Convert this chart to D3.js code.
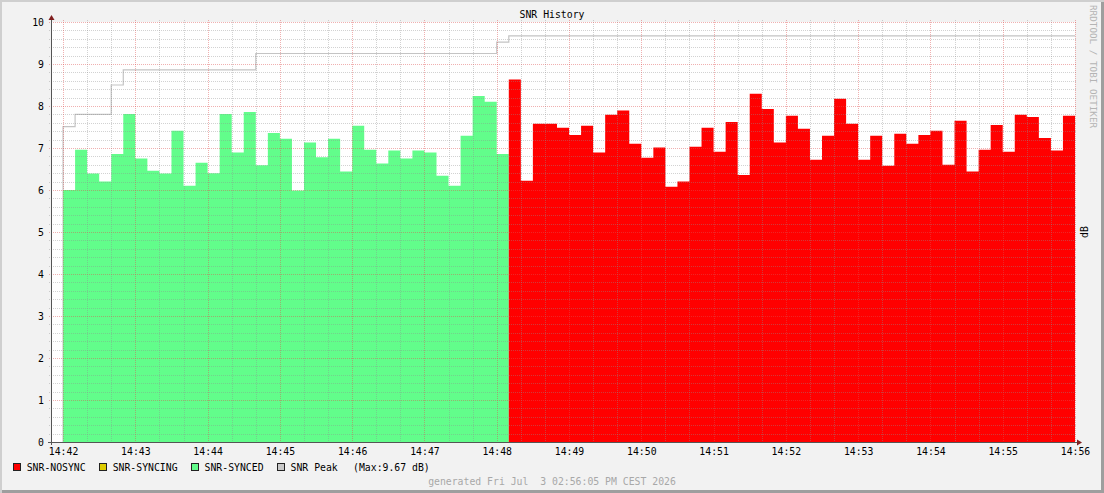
<!DOCTYPE html>
<html>
<head>
<meta charset="utf-8">
<script src="https://cdn.jsdelivr.net/npm/d3@7"></script>
<style>
  body { margin: 0; background: #f2f2f2; }
  svg { display: block; font-family: "DejaVu Sans Mono", monospace; }
</style>
</head>
<body>
<script>
const width = 1104;
const height = 493;
const margin = {top: 22, right: 29, bottom: 51, left: 51};

// samples every 10 s starting 14:42:00
const startTime = new Date(2026, 6, 3, 14, 42, 0);
const endTime = new Date(2026, 6, 3, 14, 56, 0);
const stepSeconds = 10;

const syncedSnr = [6.00, 6.96, 6.39, 6.20, 6.86, 7.81, 6.75, 6.46, 6.39, 7.41,
  6.10, 6.65, 6.40, 7.81, 6.89, 7.86, 6.59, 7.36, 7.22, 5.99,
  7.13, 6.78, 7.22, 6.44, 7.53, 6.96, 6.63, 6.94, 6.75, 6.94,
  6.89, 6.34, 6.10, 7.29, 8.24, 8.10, 6.86];

const nosyncSnr = [8.63, 6.22, 7.58, 7.58, 7.48, 7.31, 7.53, 6.89, 7.79, 7.89,
  7.10, 6.77, 7.01, 6.08, 6.20, 7.03, 7.48, 6.91, 7.62, 6.36,
  8.29, 7.93, 7.13, 7.77, 7.46, 6.72, 7.29, 8.17, 7.58, 6.72,
  7.29, 6.58, 7.34, 7.10, 7.31, 7.41, 6.60, 7.65, 6.44, 6.96,
  7.55, 6.91, 7.79, 7.74, 7.24, 6.94, 7.77];

// peak steps: offset (s) from start -> value
const peakOffsets = [0, 10, 40, 50, 160, 360, 370];
const peakValues = [7.51, 7.80, 8.50, 8.86, 9.25, 9.52, 9.67];
const peakMax = 9.67;

const yTicks = [0, 1, 2, 3, 4, 5, 6, 7, 8, 9, 10];

const legendItems = [
  {label: "SNR-NOSYNC", color: "#ff0000"},
  {label: "SNR-SYNCING", color: "#ddcc00"},
  {label: "SNR-SYNCED", color: "#62fd8b"},
  {label: "SNR Peak", color: "#c8c8c8"}
];

const title = "SNR History";
const yLabel = "dB";
const watermark = "RRDTOOL / TOBI OETIKER";
const footer = "generated Fri Jul  3 02:56:05 PM CEST 2026";

const sec = s => new Date(startTime.getTime() + s * 1000);

const x = d3.scaleTime()
  .domain([sec(-10), endTime])
  .range([margin.left, width - margin.right]);

const y = d3.scaleLinear()
  .domain([0, 10])
  .range([height - margin.bottom, margin.top]);

const x0 = margin.left, x1 = width - margin.right;
const y0 = height - margin.bottom, y1 = margin.top;

const svg = d3.select("body").append("svg")
  .attr("width", width)
  .attr("height", height);

// background + 3D frame
svg.append("rect").attr("width", width).attr("height", height).attr("fill", "#f2f2f2");
svg.append("path").attr("d", `M1,${height} V1 H${width}`).attr("fill", "none")
  .attr("stroke", "#cfcfcf").attr("stroke-width", 2);
svg.append("path").attr("d", `M2,${height - 1.5} H${width - 1.5} V2`).attr("fill", "none")
  .attr("stroke", "#9e9e9e").attr("stroke-width", 3);

// canvas
svg.append("rect")
  .attr("x", x0).attr("y", y1)
  .attr("width", x1 - x0).attr("height", y0 - y1)
  .attr("fill", "#ffffff");

// peak line (step), starting from the baseline
const peakData = [{t: sec(0), v: 0}]
  .concat(peakOffsets.map((o, i) => ({t: sec(o), v: peakValues[i]})))
  .concat([{t: endTime, v: peakValues[peakValues.length - 1]}]);

svg.append("path")
  .datum(peakData)
  .attr("fill", "none")
  .attr("stroke", "#c4c4c4")
  .attr("stroke-width", 1.2)
  .attr("d", d3.line()
    .x(d => x(d.t))
    .y(d => y(d.v))
    .curve(d3.curveStepAfter));

// areas
const area = d3.area()
  .x(d => x(d.t))
  .y0(y(0))
  .y1(d => y(d.v))
  .curve(d3.curveStepAfter);

const syncedData = syncedSnr.map((v, i) => ({t: sec(i * stepSeconds), v}));
syncedData.push({t: sec(syncedSnr.length * stepSeconds), v: syncedSnr[syncedSnr.length - 1]});

const nosyncData = nosyncSnr.map((v, i) => ({t: sec((syncedSnr.length + i) * stepSeconds), v}));
nosyncData.push({t: endTime, v: nosyncSnr[nosyncSnr.length - 1]});

svg.append("path").datum(syncedData).attr("fill", legendItems[2].color).attr("d", area);
svg.append("path").datum(nosyncData).attr("fill", legendItems[0].color).attr("d", area);

// grid (drawn on top, like rrdtool)
const grid = svg.append("g").attr("stroke-dasharray", "1,1").attr("shape-rendering", "crispEdges");
const minorColor = "rgba(143,143,143,0.4)";
const majorColor = "rgba(222,79,79,0.45)";

const minorY = d3.range(0, 50).map(i => i / 5).filter(v => v % 1 !== 0);
grid.selectAll(".hmin").data(minorY).join("line")
  .attr("x1", x0 - 2).attr("x2", x1 + 2)
  .attr("y1", d => Math.round(y(d)) + 0.5).attr("y2", d => Math.round(y(d)) + 0.5)
  .attr("stroke", minorColor);

const minorX = x.ticks(d3.timeSecond.every(20)).filter(d => d.getSeconds() !== 0);
grid.selectAll(".vmin").data(minorX).join("line")
  .attr("x1", d => Math.round(x(d)) + 0.5).attr("x2", d => Math.round(x(d)) + 0.5)
  .attr("y1", y1 - 2).attr("y2", y0 + 2)
  .attr("stroke", minorColor);

grid.selectAll(".hmaj").data(yTicks.slice(1)).join("line")
  .attr("x1", x0 - 2).attr("x2", x1 + 2)
  .attr("y1", d => Math.round(y(d)) + 0.5).attr("y2", d => Math.round(y(d)) + 0.5)
  .attr("stroke", majorColor);

const majorX = x.ticks(d3.timeMinute.every(1));
grid.selectAll(".vmaj").data(majorX).join("line")
  .attr("x1", d => Math.round(x(d)) + 0.5).attr("x2", d => Math.round(x(d)) + 0.5)
  .attr("y1", y1 - 2).attr("y2", y0 + 2)
  .attr("stroke", majorColor);

// axes
svg.append("line")
  .attr("x1", x0 - 3).attr("x2", x1 + 2)
  .attr("y1", y0 + 0.5).attr("y2", y0 + 0.5)
  .attr("stroke", "#555").attr("shape-rendering", "crispEdges");
svg.append("line")
  .attr("x1", x0 + 0.5).attr("x2", x0 + 0.5)
  .attr("y1", y0 + 3).attr("y2", y1 - 2)
  .attr("stroke", "#555").attr("shape-rendering", "crispEdges");

svg.append("path")
  .attr("d", `M${x0 + 0.5},${y1 - 7} L${x0 - 2.5},${y1 - 2} L${x0 + 3.5},${y1 - 2} Z`)
  .attr("fill", "#801f1f");
svg.append("path")
  .attr("d", `M${x1 + 7},${y0 + 0.5} L${x1 + 2},${y0 - 2.5} L${x1 + 2},${y0 + 3.5} Z`)
  .attr("fill", "#801f1f");

// tick labels
const fontSize = "9.8px";

svg.append("g")
  .attr("transform", `translate(${x0},0)`)
  .call(d3.axisLeft(y).tickValues(yTicks).tickSize(0).tickPadding(7).tickFormat(d3.format("d")))
  .call(g => g.select(".domain").remove())
  .call(g => g.selectAll("text").attr("fill", "#000").attr("font-size", fontSize)
    .attr("font-family", "DejaVu Sans Mono"));

svg.append("g")
  .attr("transform", `translate(0,${y0})`)
  .call(d3.axisBottom(x).tickValues(majorX).tickSize(0).tickPadding(6).tickFormat(d3.timeFormat("%H:%M")))
  .call(g => g.select(".domain").remove())
  .call(g => g.selectAll("text").attr("fill", "#000").attr("font-size", fontSize)
    .attr("font-family", "DejaVu Sans Mono"));

// title
svg.append("text")
  .attr("x", width / 2).attr("y", 18)
  .attr("text-anchor", "middle")
  .attr("font-size", fontSize)
  .text(title);

// y label (right side)
svg.append("text")
  .attr("transform", `translate(1088,${(y0 + y1) / 2}) rotate(-90)`)
  .attr("text-anchor", "middle")
  .attr("font-size", fontSize)
  .text(yLabel);

// watermark
svg.append("text")
  .attr("transform", `translate(1090,5) rotate(90)`)
  .attr("font-size", "9.3px")
  .attr("fill", "#b4b4b4")
  .text(watermark);

// legend
let cursor = 13;
legendItems.forEach((item, i) => {
  svg.append("rect")
    .attr("x", cursor + 0.5).attr("y", 463.5)
    .attr("width", 7).attr("height", 7)
    .attr("fill", item.color)
    .attr("stroke", "#222").attr("stroke-width", 1)
    .attr("shape-rendering", "crispEdges");
  const textX = cursor + 13.7;
  const t = svg.append("text")
    .attr("x", textX).attr("y", 470.5)
    .attr("font-size", fontSize)
    .text(item.label);
  if (i === legendItems.length - 1) {
    t.append("tspan")
      .attr("x", textX + 62.5)
      .text(`(Max:${peakMax.toFixed(2)} dB)`);
  }
  cursor = textX + t.node().getComputedTextLength() + 13.3;
});

// footer
svg.append("text")
  .attr("x", width / 2).attr("y", 484.5)
  .attr("text-anchor", "middle")
  .attr("font-size", fontSize)
  .attr("fill", "#a8a8a8")
  .style("white-space", "pre")
  .text(footer);
</script>
</body>
</html>
